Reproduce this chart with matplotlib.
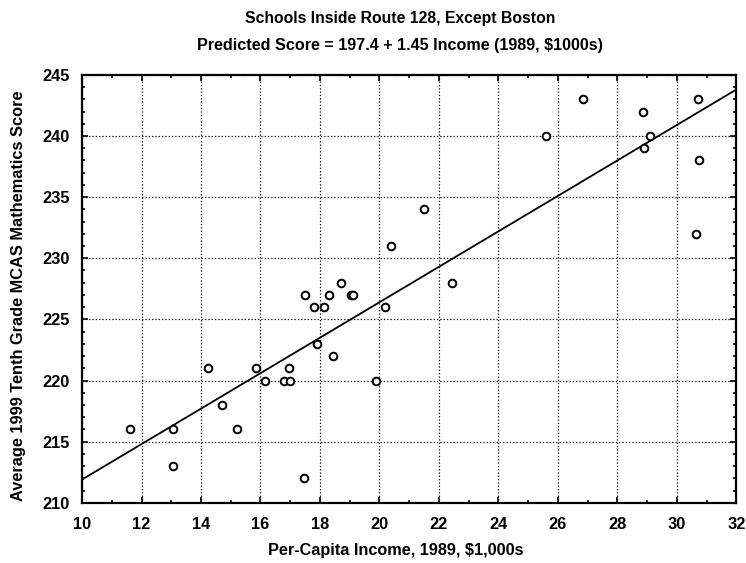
import matplotlib
matplotlib.use("Agg")
import matplotlib.pyplot as plt
import numpy as np
from matplotlib.ticker import MultipleLocator

# Per-capita income (1989, $1000s) and 1999 tenth grade MCAS math scores
income = [20.4, 18.7, 17.5, 18.3, 19.05, 19.1, 17.8, 18.15, 20.2, 17.9, 18.45,
          14.25, 15.85, 16.95, 16.15, 16.8, 17.0, 19.9, 14.7, 11.6, 13.05,
          15.2, 13.05, 17.45, 26.85, 30.7, 28.85, 25.6, 29.1, 28.9, 30.75,
          21.5, 30.65, 22.45]
score = [231, 228, 227, 227, 227, 227, 226, 226, 226, 223, 222,
         221, 221, 221, 220, 220, 220, 220, 218, 216, 216,
         216, 213, 212, 243, 243, 242, 240, 240, 239, 238,
         234, 232, 228]

intercept = 197.4
slope = 1.45

x_range = [10, 32]
y_range = [210, 245]

fig = plt.figure(figsize=(7.46, 5.63), dpi=100)
ax = fig.add_axes([0.110, 0.107, 0.877, 0.760])

font = {'family': 'Liberation Sans', 'weight': 'bold'}

# regression line
xl = np.array(x_range)
ax.plot(xl, intercept + slope * xl, color='black', lw=1.3, zorder=3)

# data points
ax.plot(income, score, 'o', mfc='white', mec='black', mew=1.4, ms=5.5,
        zorder=4, clip_on=False)

ax.set_xlim(*x_range)
ax.set_ylim(*y_range)
ax.xaxis.set_major_locator(MultipleLocator(2))
ax.xaxis.set_minor_locator(MultipleLocator(1))
ax.yaxis.set_major_locator(MultipleLocator(5))
ax.yaxis.set_minor_locator(MultipleLocator(1))

ax.tick_params(which='both', direction='in', top=True, right=True,
               color='black', width=1.2)
ax.tick_params(which='major', length=4)
ax.tick_params(which='minor', length=2.5)
ax.tick_params(axis='x', which='major', pad=10)
ax.tick_params(axis='y', which='major', pad=9)
for lab in ax.get_xticklabels() + ax.get_yticklabels():
    lab.set_fontfamily('Liberation Sans')
    lab.set_fontweight('bold')
    lab.set_fontsize(11.8)

ax.grid(True, which='major', linestyle=':', color='black', lw=0.9)

for side in ax.spines.values():
    side.set_linewidth(1.6)

ax.set_xlabel('Per-Capita Income, 1989, $1,000s', fontsize=11.7, **font)
ax.xaxis.set_label_coords(0.479, -0.094)
ax.set_ylabel('Average 1999 Tenth Grade MCAS Mathematics Score', fontsize=11.8,
              **font)
ax.yaxis.set_label_coords(-0.086, 0.483)

fig.text(0.536, 0.968, 'Schools Inside Route 128, Except Boston', ha='center',
         va='center', fontsize=11.3, **font)
fig.text(0.536, 0.920, 'Predicted Score = 197.4 + 1.45 Income (1989, $1000s)',
         ha='center', va='center', fontsize=11.6, **font)

fig.savefig('out.png', dpi=100)
